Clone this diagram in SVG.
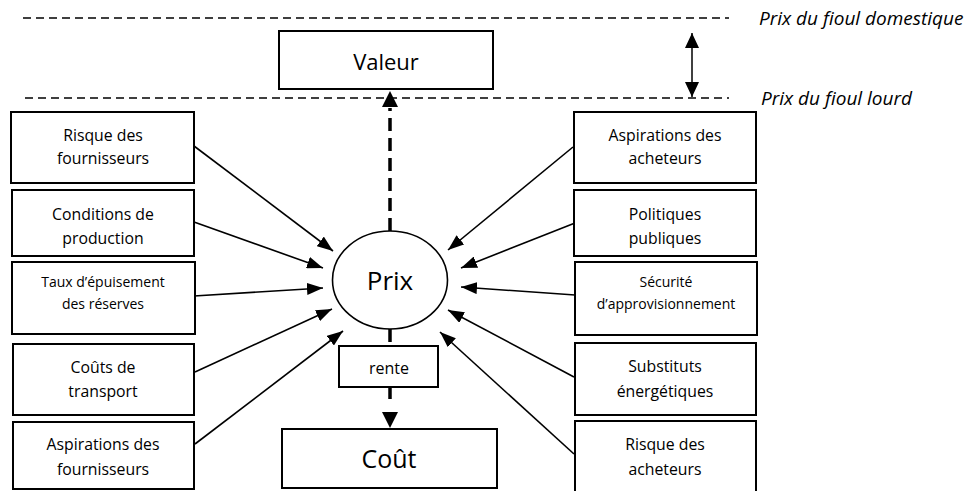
<svg xmlns="http://www.w3.org/2000/svg" width="972" height="491" viewBox="0 0 972 491">
<style>
.box{fill:#fff;stroke:#000;stroke-width:2}
.t{font-family:"Open Sans","Liberation Sans",sans-serif;fill:#000;text-anchor:middle}
.s{font-size:15.8px}
.xs{font-size:14px}
.it{font-family:"Open Sans","Liberation Sans",sans-serif;font-style:italic;font-size:19px;fill:#000}
.arr{stroke:#000;stroke-width:1.6;fill:none;marker-end:url(#ah)}
.dash{stroke:#000;stroke-width:3.5;fill:none;stroke-dasharray:13 7}
.hl{stroke:#000;stroke-width:1.3;stroke-dasharray:8 5;fill:none}
</style>
<defs>
<marker id="ah" viewBox="0 0 16 12" refX="16" refY="6" markerWidth="16" markerHeight="12" markerUnits="userSpaceOnUse" orient="auto">
<path d="M0 0 L16 6 L0 12 Z" fill="#000"/>
</marker>
<marker id="ahb" viewBox="0 0 16 16" refX="16" refY="8" markerWidth="16" markerHeight="16" markerUnits="userSpaceOnUse" orient="auto">
<path d="M0 0 L16 8 L0 16 Z" fill="#000"/>
</marker>
<marker id="ahd" viewBox="0 0 15 14" refX="15" refY="7" markerWidth="15" markerHeight="14" markerUnits="userSpaceOnUse" orient="auto-start-reverse">
<path d="M0 0 L15 7 L0 14 Z" fill="#000"/>
</marker>
</defs>

<g id="levels">
<path class="hl" d="M23 18 H729"/>
<path class="hl" d="M25 98 H729"/>
<text class="it" x="759" y="25">Prix du fioul domestique</text>
<text class="it" x="761" y="105">Prix du fioul lourd</text>
</g>

<g id="connectors">
<path d="M692 33 V97" stroke="#000" stroke-width="1.5" fill="none" marker-start="url(#ahd)" marker-end="url(#ahd)"/>
<path class="dash" d="M390 231 V108"/>
<path d="M390 112 V91" stroke="#000" stroke-width="0" fill="none" marker-end="url(#ahb)"/>
<path class="dash" d="M390 329 V346"/>
<path class="dash" d="M390 387 V399"/>
<path d="M390 404 V428" stroke="#000" stroke-width="0" fill="none" marker-end="url(#ahb)"/>
<path class="arr" d="M194 146 L333 251"/>
<path class="arr" d="M194 222 L323 268"/>
<path class="arr" d="M194 296 L323 288"/>
<path class="arr" d="M195 372 L332 309"/>
<path class="arr" d="M195 444 L343 331"/>
<path class="arr" d="M573 147 L448 250"/>
<path class="arr" d="M575 223 L461 268"/>
<path class="arr" d="M575 295 L461 287"/>
<path class="arr" d="M574 377 L448 310"/>
<path class="arr" d="M574 454 L440 332"/>
</g>

<g id="valeur"><rect class="box" x="279" y="31" width="214" height="58"/><text class="t" x="386" y="70" font-size="22">Valeur</text></g>
<g id="prix"><ellipse cx="390" cy="280" rx="57.5" ry="49" fill="#fff" stroke="#000" stroke-width="1.6"/><text class="t" x="390" y="290" font-size="26">Prix</text></g>
<g id="rente"><rect class="box" x="339" y="346" width="99" height="41"/><text class="t" x="389" y="374" font-size="16">rente</text></g>
<g id="cout"><rect class="box" x="282" y="429" width="215" height="59"/><text class="t" x="389" y="468" font-size="25">Coût</text></g>

<g id="l1"><rect class="box" x="11" y="112" width="183" height="71"/><text class="t s" x="103" y="141">Risque des</text><text class="t s" x="103" y="164">fournisseurs</text></g>
<g id="l2"><rect class="box" x="12" y="190" width="182" height="66"/><text class="t s" x="103" y="220">Conditions de</text><text class="t s" x="103" y="244">production</text></g>
<g id="l3"><rect class="box" x="12" y="262" width="183" height="72"/><text class="t xs" x="103" y="287">Taux d’épuisement</text><text class="t xs" x="103" y="309">des réserves</text></g>
<g id="l4"><rect class="box" x="13" y="344" width="181" height="71"/><text class="t s" x="103" y="373">Coûts de</text><text class="t s" x="103" y="397">transport</text></g>
<g id="l5"><rect class="box" x="13" y="422" width="181" height="67"/><text class="t s" x="103" y="450">Aspirations des</text><text class="t s" x="103" y="475">fournisseurs</text></g>

<g id="r1"><rect class="box" x="574" y="112" width="182" height="71"/><text class="t s" x="665" y="141">Aspirations des</text><text class="t s" x="665" y="164">acheteurs</text></g>
<g id="r2"><rect class="box" x="574" y="190" width="182" height="66"/><text class="t s" x="665" y="220">Politiques</text><text class="t s" x="665" y="244">publiques</text></g>
<g id="r3"><rect class="box" x="575" y="262" width="182" height="73"/><text class="t xs" x="666" y="287">Sécurité</text><text class="t xs" x="666" y="309">d’approvisionnement</text></g>
<g id="r4"><rect class="box" x="575" y="343" width="181" height="72"/><text class="t s" x="665" y="372">Substituts</text><text class="t s" x="665" y="397">énergétiques</text></g>
<g id="r5"><rect class="box" x="575" y="421" width="181" height="72"/><text class="t s" x="665" y="450">Risque des</text><text class="t s" x="665" y="475">acheteurs</text></g>
</svg>
